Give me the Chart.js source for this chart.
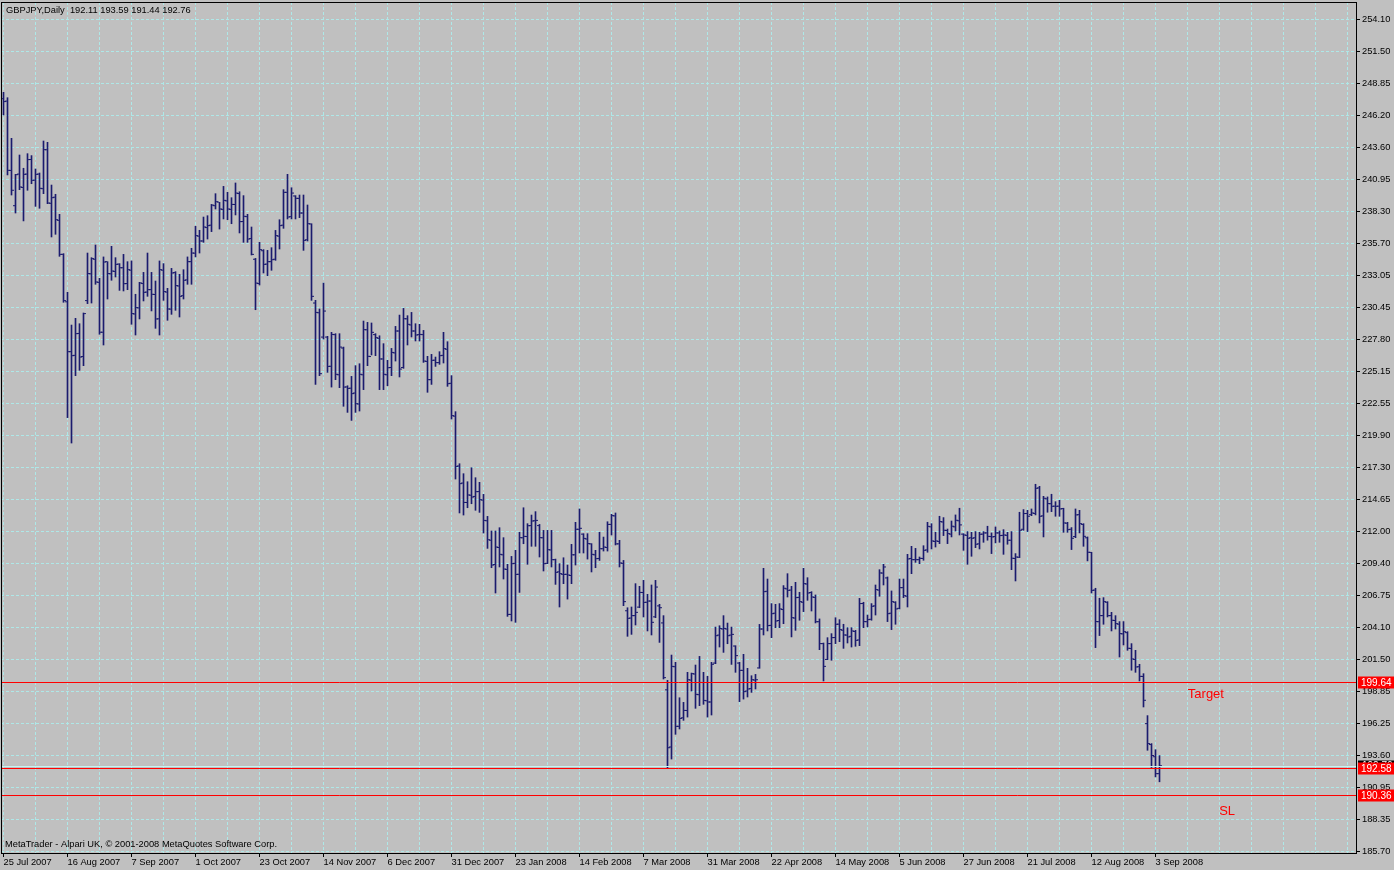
<!DOCTYPE html>
<html lang="en">
  <head>
    <meta charset="UTF-8" />
    <meta name="viewport" content="width=device-width, initial-scale=1.0" />
    <title>GBPJPY Daily</title>
    <script src="https://cdn.jsdelivr.net/npm/chart.js@4.4.0/dist/chart.umd.min.js"></script>
    <style>
      html,
      body {
        margin: 0;
        padding: 0;
        background: #c0c0c0;
        overflow: hidden;
      }
      #chartContainer {
        width: 1394px;
        height: 870px;
      }
    </style>
  </head>
  <body>
    <div id="chartContainer">
      <canvas id="priceChart"></canvas>
    </div>

    <script>
      const symbolTitle = 'GBPJPY,Daily';
      const footerText = 'MetaTrader - Alpari UK, \u00a9 2001-2008 MetaQuotes Software Corp.';

      // one label every 16 bars, starting at bar 0
      const dateLabels = [
        '25 Jul 2007', '16 Aug 2007', '7 Sep 2007', '1 Oct 2007', '23 Oct 2007',
        '14 Nov 2007', '6 Dec 2007', '31 Dec 2007', '23 Jan 2008', '14 Feb 2008',
        '7 Mar 2008', '31 Mar 2008', '22 Apr 2008', '14 May 2008', '5 Jun 2008',
        '27 Jun 2008', '21 Jul 2008', '12 Aug 2008', '3 Sep 2008',
      ];

      const yTickLabels = [
        '254.10', '251.50', '248.85', '246.20', '243.60', '240.95', '238.30',
        '235.70', '233.05', '230.45', '227.80', '225.15', '222.55', '219.90',
        '217.30', '214.65', '212.00', '209.40', '206.75', '204.10', '201.50',
        '198.85', '196.25', '193.60', '190.95', '188.35', '185.70',
      ];

      const opens = [
        247.6, 247.4, 241.7, 238.8, 241.4, 240.3, 241.4, 242.6, 240.9, 241.4,
        240.2, 243.4, 239.0, 239.5, 237.6, 234.8, 230.9, 226.8, 226.5, 228.3,
        226.4, 231.0, 233.2, 234.4, 232.5, 228.4, 234.2, 233.2, 233.4, 234.0,
        233.7, 232.4, 233.5, 229.9, 230.4, 232.4, 231.7, 231.9, 231.5, 229.5,
        233.5, 231.7, 230.3, 233.3, 232.2, 231.4, 232.7, 234.2, 234.9, 236.3,
        235.9, 237.0, 237.2, 238.8, 239.1, 238.5, 239.2, 238.5, 238.9, 239.8,
        237.5, 237.9, 236.1, 234.4, 232.4, 235.1, 234.0, 234.2, 234.4, 236.3,
        237.2, 239.9, 237.9, 239.6, 239.4, 238.2, 236.0, 237.3, 230.8, 230.0,
        228.0, 228.0, 225.6, 228.2, 224.9, 227.1, 223.9, 223.8, 223.4, 222.5,
        224.9, 228.6, 226.4, 228.2, 227.9, 226.2, 224.9, 225.5, 226.7, 228.5,
        225.5, 229.5, 229.0, 228.5, 228.2, 228.2, 226.0, 224.5, 226.1, 225.9,
        226.5, 227.0, 224.2, 221.5, 217.4, 216.0, 214.4, 215.0, 214.9, 215.3,
        214.6, 212.9, 211.3, 209.3, 210.7, 210.1, 208.9, 205.2, 209.4, 208.5,
        211.5, 211.6, 212.5, 212.9, 212.5, 211.5, 209.4, 210.5, 209.7, 208.7,
        208.5, 208.5, 208.4, 210.1, 212.2, 211.8, 211.4, 211.0, 210.1, 209.8,
        210.6, 210.7, 212.6, 213.3, 211.0, 209.4, 205.5, 204.9, 205.1, 205.8,
        207.0, 206.2, 206.3, 205.0, 205.9, 204.5, 199.0, 194.3, 200.9, 196.0,
        196.7, 197.3, 199.8, 200.3, 198.6, 199.6, 198.1, 198.0, 201.2, 203.5,
        204.0, 204.0, 203.5, 202.6, 201.2, 200.6, 198.9, 199.1, 199.8, 200.8,
        204.0, 207.1, 204.3, 205.3, 204.7, 205.6, 207.3, 207.2, 204.9, 206.6,
        206.2, 207.7, 207.0, 206.6, 204.6, 202.8, 201.5, 202.8, 203.3, 204.4,
        203.9, 203.5, 203.4, 203.8, 203.1, 206.1, 204.6, 204.8, 205.9, 207.2,
        208.6, 208.2, 205.3, 206.2, 205.7, 207.4, 206.7, 209.8, 209.7, 209.7,
        209.8, 210.5, 212.4, 211.2, 211.2, 212.8, 212.1, 211.8, 212.4, 212.9,
        211.8, 211.7, 211.5, 211.5, 211.0, 211.8, 211.9, 211.6, 211.6, 211.9,
        211.7, 211.7, 211.3, 209.8, 209.9, 212.2, 213.5, 213.4, 213.5, 215.6,
        213.3, 214.7, 214.3, 214.1, 214.1, 213.9, 212.7, 212.2, 211.6, 213.4,
        212.6, 211.5, 210.3, 207.2, 204.6, 205.1, 206.2, 205.1, 204.7, 204.4,
        203.6, 203.7, 202.4, 201.5, 200.9, 200.1, 196.22, 194.5, 193.5, 192.11,
      ];

      const highs = [
        248.12, 247.68, 244.34, 241.38, 242.97, 241.88, 243.08, 242.92, 241.82, 241.49,
        244.12, 244.01, 240.5, 239.74, 238.09, 234.86, 231.68, 228.99, 229.54, 229.1,
        229.98, 234.91, 234.53, 235.57, 232.83, 234.59, 234.2, 235.46, 234.53, 234.04,
        234.8, 234.2, 234.26, 231.52, 232.5, 233.32, 234.91, 233.32, 232.61, 234.26,
        234.04, 232.01, 233.65, 233.38, 233.16, 233.54, 234.59, 235.3, 237.11, 236.78,
        237.87, 237.98, 238.91, 239.79, 239.08, 240.39, 239.9, 239.46, 240.67, 239.95,
        239.63, 238.09, 237.05, 234.47, 235.79, 235.19, 235.13, 235.35, 236.77, 237.65,
        240.12, 241.38, 240.28, 239.63, 239.68, 239.68, 238.86, 237.32, 231.02, 230.31,
        232.44, 228.06, 228.39, 228.28, 228.28, 227.18, 224.0, 224.77, 225.65, 225.81,
        229.32, 229.21, 229.16, 228.28, 228.11, 227.46, 226.09, 227.07, 228.88, 229.81,
        230.36, 229.76, 230.03, 229.1, 229.05, 228.55, 226.42, 226.58, 226.36, 226.8,
        228.39, 227.62, 224.83, 221.87, 217.59, 216.77, 216.11, 217.26, 216.44, 216.06,
        215.07, 213.26, 212.06, 212.06, 212.33, 211.51, 209.32, 209.97, 210.47, 211.95,
        213.97, 212.66, 213.37, 213.65, 212.6, 212.11, 212.11, 212.11, 209.75, 209.37,
        209.86, 209.26, 210.96, 212.77, 213.87, 211.84, 211.84, 211.02, 210.47, 211.95,
        211.56, 212.82, 213.43, 213.54, 211.29, 209.64, 205.75, 205.81, 207.73, 207.51,
        208.0, 206.85, 207.62, 208.0, 206.03, 205.1, 199.78, 201.86, 201.26, 198.35,
        197.97, 200.44, 200.38, 201.04, 201.75, 200.44, 200.11, 201.26, 204.16, 204.27,
        205.1, 204.49, 204.16, 202.63, 201.26, 201.92, 200.77, 200.16, 200.27, 204.38,
        208.99, 208.11, 206.09, 206.03, 206.09, 207.57, 208.55, 207.51, 207.84, 207.02,
        208.99, 208.22, 207.07, 206.8, 204.83, 202.85, 203.29, 203.62, 204.93, 204.77,
        204.39, 204.11, 204.11, 203.89, 206.52, 206.2, 205.15, 206.09, 207.62, 208.88,
        209.32, 208.28, 207.13, 206.25, 208.11, 208.11, 210.14, 210.8, 210.63, 209.92,
        210.85, 212.77, 212.66, 211.95, 213.27, 213.16, 212.22, 212.88, 213.38, 213.93,
        211.84, 212.01, 211.95, 212.01, 211.95, 212.01, 212.45, 211.9, 212.39, 212.06,
        212.17, 211.95, 212.01, 210.2, 213.6, 213.82, 213.76, 213.87, 215.9, 215.73,
        214.91, 214.86, 215.08, 214.47, 214.58, 213.93, 212.77, 212.34, 213.87, 213.76,
        212.66, 211.57, 210.31, 207.35, 206.53, 206.58, 206.25, 205.37, 205.1, 204.61,
        204.61, 203.78, 202.8, 202.25, 201.1, 200.33, 196.88, 194.58, 194.08, 193.59,
      ];

      const lows = [
        246.26, 241.33, 239.68, 238.2, 240.12, 237.55, 240.07, 240.61, 238.75, 238.59,
        239.79, 238.97, 236.23, 236.45, 234.64, 230.86, 221.38, 219.29, 224.83, 225.27,
        225.65, 230.75, 230.8, 232.34, 228.23, 227.35, 231.13, 232.67, 232.94, 231.84,
        231.79, 231.9, 229.05, 228.17, 229.49, 230.97, 231.35, 230.15, 228.72, 228.17,
        231.02, 229.38, 229.87, 230.2, 229.65, 231.13, 232.34, 232.34, 234.59, 234.91,
        235.79, 236.06, 236.67, 238.53, 236.88, 237.71, 237.65, 237.32, 238.04, 236.56,
        235.79, 235.79, 234.75, 230.25, 232.28, 233.27, 233.05, 233.49, 234.31, 235.24,
        236.94, 237.71, 237.71, 237.71, 237.82, 235.13, 235.9, 231.02, 224.11, 224.83,
        227.84, 225.1, 223.89, 224.5, 223.84, 222.31, 221.81, 221.15, 221.81, 221.92,
        223.68, 225.65, 226.53, 226.47, 223.68, 223.68, 224.0, 224.83, 226.03, 224.72,
        225.43, 227.35, 228.01, 227.68, 227.68, 225.92, 223.46, 224.11, 225.59, 225.76,
        225.87, 223.95, 221.26, 216.33, 213.54, 213.37, 213.97, 214.3, 213.76, 213.59,
        211.89, 210.63, 209.04, 206.96, 209.1, 208.11, 205.04, 204.66, 204.55, 207.01,
        211.01, 209.32, 210.8, 210.8, 209.92, 208.77, 209.37, 209.1, 207.67, 205.81,
        207.73, 206.46, 207.73, 209.26, 210.25, 210.25, 209.75, 208.69, 209.04, 209.64,
        210.41, 210.41, 211.73, 210.91, 209.1, 205.92, 203.4, 203.56, 204.33, 205.75,
        204.99, 203.84, 203.51, 204.93, 202.9, 199.89, 192.54, 193.31, 195.34, 195.78,
        196.49, 196.76, 198.9, 197.48, 197.7, 197.81, 196.76, 196.93, 201.15, 202.52,
        202.08, 202.79, 201.09, 200.44, 198.03, 198.24, 198.41, 198.79, 199.07, 200.77,
        203.51, 203.84, 203.29, 204.11, 204.11, 204.44, 206.63, 203.35, 203.89, 204.72,
        205.43, 206.36, 205.48, 204.5, 202.3, 199.73, 201.48, 201.43, 202.8, 202.96,
        202.41, 202.85, 202.52, 202.58, 202.63, 204.11, 204.17, 204.72, 205.15, 206.69,
        207.62, 204.61, 203.95, 204.39, 205.65, 206.58, 205.81, 208.55, 209.48, 209.37,
        209.65, 210.31, 210.58, 210.74, 211.02, 211.68, 211.02, 211.57, 212.06, 211.73,
        210.47, 209.32, 209.98, 210.69, 210.58, 211.13, 211.3, 210.2, 211.08, 211.13,
        210.14, 210.97, 208.88, 207.95, 209.87, 212.12, 212.01, 213.32, 213.38, 212.72,
        211.57, 213.6, 213.65, 213.27, 213.27, 211.95, 211.95, 210.53, 211.51, 211.9,
        210.8, 209.6, 206.96, 202.47, 203.46, 204.39, 204.99, 203.84, 204.0, 201.7,
        202.69, 202.25, 200.61, 200.44, 199.73, 197.59, 194.03, 192.61, 191.84, 191.44,
      ];

      const closes = [
        247.36, 241.71, 240.07, 241.35, 240.34, 241.38, 242.59, 240.89, 241.38, 240.23,
        243.41, 239.02, 239.46, 237.65, 234.8, 231.0, 226.8, 226.47, 228.28, 226.36,
        229.93, 233.22, 234.45, 232.53, 228.4, 234.17, 233.22, 233.43, 233.98, 233.7,
        232.39, 233.54, 229.93, 230.42, 232.45, 231.68, 231.9, 231.52, 229.49, 233.54,
        231.74, 230.31, 233.27, 232.23, 231.35, 232.67, 234.2, 234.91, 236.34, 235.9,
        237.05, 237.16, 238.85, 239.13, 238.53, 239.24, 238.53, 238.91, 239.84, 237.49,
        237.93, 236.06, 234.8, 232.44, 235.19, 233.98, 234.2, 234.36, 236.34, 237.16,
        239.9, 237.87, 239.84, 239.41, 238.2, 235.95, 237.32, 231.35, 230.03, 224.99,
        230.14, 225.59, 228.22, 224.94, 227.18, 223.89, 223.78, 223.35, 222.52, 224.94,
        228.61, 226.42, 228.39, 227.95, 226.2, 224.94, 225.48, 226.74, 228.5, 225.37,
        229.51, 229.05, 228.5, 228.17, 228.22, 226.03, 224.5, 226.09, 225.9, 226.47,
        227.05, 224.17, 221.54, 217.37, 215.95, 214.41, 215.02, 214.85, 215.29, 214.63,
        212.93, 211.34, 209.26, 210.74, 210.14, 208.93, 205.2, 209.37, 208.49, 211.51,
        211.62, 212.49, 212.88, 212.93, 211.51, 209.37, 210.52, 209.7, 208.66, 208.55,
        208.49, 208.44, 210.1, 212.2, 212.28, 211.45, 211.02, 210.14, 209.78, 210.6,
        210.74, 212.6, 213.32, 211.0, 209.43, 206.25, 204.88, 205.1, 205.37, 207.01,
        206.19, 206.3, 204.55, 207.45, 205.75, 200.0, 194.24, 200.93, 196.0, 196.65,
        197.31, 199.83, 200.33, 198.63, 199.61, 198.13, 198.0, 201.1, 203.45, 204.05,
        204.05, 203.45, 203.56, 201.81, 200.6, 198.85, 199.07, 199.83, 199.83, 204.0,
        207.07, 204.28, 205.26, 204.66, 205.65, 207.35, 207.18, 204.93, 206.58, 206.25,
        207.73, 206.96, 206.63, 204.6, 202.8, 200.93, 202.8, 203.29, 204.39, 203.95,
        203.51, 203.35, 203.84, 203.07, 206.09, 204.61, 204.77, 205.87, 207.24, 208.61,
        209.1, 205.26, 206.25, 205.65, 207.4, 206.74, 209.76, 209.7, 209.7, 209.81,
        210.47, 212.44, 211.24, 211.24, 212.83, 212.12, 211.84, 212.45, 212.94, 212.56,
        211.73, 211.46, 211.46, 210.97, 211.79, 211.9, 211.62, 211.57, 211.9, 211.68,
        211.73, 211.3, 209.82, 209.92, 212.12, 213.49, 213.27, 213.54, 215.57, 213.27,
        214.75, 214.31, 214.09, 214.09, 213.87, 212.72, 212.17, 211.46, 213.38, 212.66,
        211.62, 210.31, 207.18, 204.61, 205.1, 206.25, 205.1, 204.72, 204.44, 203.62,
        203.78, 202.42, 201.54, 200.88, 200.11, 198.14, 194.58, 193.6, 192.11, 192.76,
      ];

      // horizontal line objects (price levels) and their text notes
      const levelLines = [199.64, 192.58, 190.36];
      const noteTexts = ['Target', 'SL'];
      const noteBars = [300.6, 305.9];
      const notePrices = [198.6, 189.0];

      const BAR_COLOR = '#1b1b6e';
      const GRID_COLOR = '#aee8e8';
      const FONT_FAMILY = '"Liberation Sans", Arial, sans-serif';
      const SMALL_FONT = '9.3px ' + FONT_FAMILY;
      const TICK_SHIFT = 0.375; // open/close ticks, in bar units

      const ctx = document.getElementById('priceChart').getContext('2d');

      function hline(c, x1, x2, y) {
        c.beginPath();
        c.moveTo(x1, y);
        c.lineTo(x2, y);
        c.stroke();
      }

      const overlayPlugin = {
        id: 'overlay',
        afterDraw(chart) {
          const c = chart.ctx;
          const a = chart.chartArea;
          const y = chart.scales.y;
          const x = chart.scales.x;
          const last = closes.length - 1;
          c.save();

          // bid line
          const bidY = Math.round(y.getPixelForValue(closes[last])) + 0.5;
          c.lineWidth = 1;
          c.strokeStyle = '#c6f2f2';
          hline(c, a.left, a.right, bidY);

          // level lines
          c.strokeStyle = '#ff0000';
          levelLines.forEach((lv) => {
            hline(c, a.left, a.right, Math.round(y.getPixelForValue(lv)) + 0.5);
          });

          // frame
          c.strokeStyle = '#000';
          c.strokeRect(a.left + 0.5, a.top + 0.5, a.right - a.left, a.bottom - a.top);

          // price boxes on the right scale
          c.font = '10px ' + FONT_FAMILY;
          c.textBaseline = 'middle';
          c.textAlign = 'left';
          const boxX = a.right + 2;
          const boxW = chart.width - boxX;
          c.fillStyle = '#000';
          c.fillRect(boxX, bidY - 6, boxW, 12);
          c.fillStyle = '#fff';
          c.fillText(closes[last].toFixed(2), a.right + 6, bidY);
          levelLines.forEach((lv) => {
            const ly = Math.round(y.getPixelForValue(lv)) + 0.5;
            c.fillStyle = '#ff0000';
            c.fillRect(boxX, ly - 6, boxW, 12);
            c.fillStyle = '#fff';
            c.fillText(lv.toFixed(2), a.right + 5, ly + 0.5);
          });

          // text notes
          c.font = '13px ' + FONT_FAMILY;
          c.fillStyle = '#ff0000';
          c.textAlign = 'center';
          noteTexts.forEach((t, i) => {
            c.fillText(t, x.getPixelForValue(noteBars[i]), y.getPixelForValue(notePrices[i]));
          });

          // header and footer
          c.font = SMALL_FONT;
          c.fillStyle = '#000';
          c.textAlign = 'left';
          const ohlc = [opens[last], highs[last], lows[last], closes[last]]
            .map((v) => v.toFixed(2))
            .join(' ');
          c.fillText(symbolTitle + '  ' + ohlc, 6, 10);
          c.fillText(footerText, 5, a.bottom - 9);
          c.restore();
        },
      };

      const tickStyle = {
        radius: 1,
        hoverRadius: 0,
        borderWidth: 1,
        borderColor: BAR_COLOR,
        backgroundColor: BAR_COLOR,
        pointStyle: 'line',
      };

      const chart = new Chart(ctx, {
        type: 'bar',
        data: {
          datasets: [
            {
              type: 'bar',
              data: highs.map((h, i) => ({ x: i, y: [lows[i], h] })),
              backgroundColor: BAR_COLOR,
              borderWidth: 0,
              barThickness: 1,
              grouped: false,
            },
            {
              type: 'scatter',
              data: opens.map((o, i) => ({ x: i - TICK_SHIFT, y: o })),
              ...tickStyle,
            },
            {
              type: 'scatter',
              data: closes.map((cl, i) => ({ x: i + TICK_SHIFT, y: cl })),
              ...tickStyle,
            },
          ],
        },
        options: {
          responsive: true,
          maintainAspectRatio: false,
          devicePixelRatio: 1,
          animation: false,
          events: [],
          layout: { autoPadding: false, padding: { left: 1, top: 2, right: 0, bottom: 0 } },
          plugins: {
            legend: { display: false },
            tooltip: { enabled: false },
          },
          scales: {
            x: {
              type: 'linear',
              position: 'bottom',
              offset: false,
              min: -0.625,
              max: 338.125,
              afterBuildTicks: (scale) => {
                const ticks = [];
                for (let v = 0; v <= 336; v += 8) ticks.push({ value: v });
                scale.ticks = ticks;
              },
              afterFit: (scale) => {
                scale.height = 17;
                scale.paddingLeft = 0;
                scale.paddingRight = 0;
              },
              ticks: {
                autoSkip: false,
                maxRotation: 0,
                align: 'start',
                padding: 0,
                color: '#000',
                font: { family: FONT_FAMILY, size: 9.3 },
                callback: (v) => (v % 16 === 0 && dateLabels[v / 16]) || '',
              },
              grid: {
                offset: false,
                color: GRID_COLOR,
                tickLength: 4,
                tickBorderDash: [],
                tickColor: (c) =>
                  c.tick && c.tick.value % 16 === 0 && dateLabels[c.tick.value / 16]
                    ? '#000'
                    : 'rgba(0,0,0,0)',
              },
              border: { color: '#000', dash: [3, 2] },
            },
            y: {
              type: 'linear',
              position: 'right',
              min: 185.586,
              max: 255.548,
              afterBuildTicks: (scale) => {
                scale.ticks = yTickLabels.map((l) => ({ value: parseFloat(l) }));
              },
              afterFit: (scale) => {
                scale.width = 38;
                scale.paddingTop = 0;
                scale.paddingBottom = 0;
              },
              ticks: {
                autoSkip: false,
                padding: 2,
                color: '#000',
                font: { family: FONT_FAMILY, size: 9.3 },
                callback: (v, i) => yTickLabels[i],
              },
              grid: {
                color: GRID_COLOR,
                tickLength: 4,
                tickBorderDash: [],
                tickColor: '#000',
              },
              border: { color: '#000', dash: [3, 2] },
            },
          },
        },
        plugins: [overlayPlugin],
      });
    </script>
  </body>
</html>
